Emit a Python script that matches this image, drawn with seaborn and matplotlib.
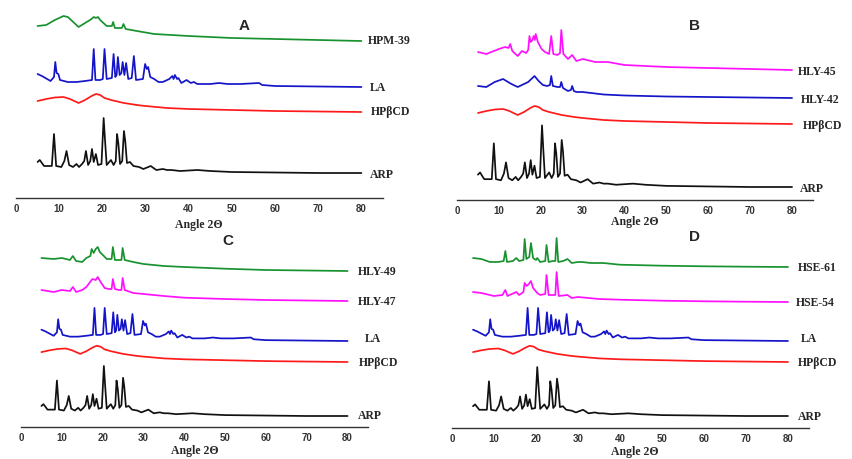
import numpy as np
import pandas as pd
import seaborn as sns
import matplotlib
matplotlib.use("Agg")
import matplotlib.pyplot as plt

# XRD patterns, intensity given as pixel height above each trace's 80° baseline
arp_x = [5, 5.5, 6.5, 8.3, 8.8, 9.3, 10.5, 11.2, 11.7, 12.3, 13.2, 14.0, 14.6, 15.3, 15.8, 16.2, 16.7, 17.2,
         17.6, 18.0, 18.5, 19.0, 19.8, 20.3, 20.6, 21.0, 22.0, 22.6, 23.1, 23.4, 23.7, 24.1, 24.6, 25.0, 25.3,
         25.7, 26.4, 27.2, 28.5, 29.5, 31.2, 32.5, 34, 35, 36, 38, 42, 45, 50, 60, 70, 80]
arp_y = [11, 13, 7, 7, 39, 7, 6, 12, 22, 8, 6, 9, 6, 9, 12, 22, 8, 12,
         24, 11, 19, 8, 9, 55, 34, 8, 13, 8, 12, 39, 30, 9, 12, 42, 32,
         10, 11, 7, 6, 4, 7, 3, 4, 3, 3, 2, 3, 2, 1, 0.5, 0, 0]

la_x = [5, 6, 8, 8.8, 9.1, 9.4, 9.8, 10.2, 12, 14, 16, 17.6, 18.0, 18.4, 19.5, 20.1, 20.5, 21.0, 22.2, 22.6,
        23.0, 23.3, 23.6, 24.0, 24.4, 24.7, 25.1, 25.5, 26.0, 26.8, 27.3, 27.8, 29.4, 29.9, 30.3, 30.6, 31.1,
        32.0, 33.0, 34.0, 35.5, 36.2, 36.5, 36.8, 37.3, 37.6, 38.3, 39.5, 40.5, 41.2, 42, 43.5, 45, 47, 49,
        52, 56.3, 57, 60, 70, 80]
la_y = [13, 11, 6, 10, 25, 14, 13, 7, 5, 5, 6, 7, 38, 7, 7, 8, 38, 8, 9, 33,
        10, 12, 30, 12, 14, 25, 12, 24, 8, 9, 31, 7, 8, 23, 18, 20, 10,
        8, 5, 5, 8, 11, 8, 12, 8, 9, 4, 7, 4, 5, 3, 3, 3, 4, 3,
        3, 4, 2, 1, 0.5, 0]

hpbcd_x = [5, 6, 7, 9, 11, 12.5, 14.5, 16, 17.5, 18.5, 19.5, 20.5, 22, 25, 28, 30, 35, 40, 50, 60, 70, 80]
hpbcd_y = [11, 12, 13, 14.5, 15, 13, 9, 12, 16, 18, 17, 14, 12, 9, 7, 6, 4, 3, 2, 1, 0.5, 0]

hpm39_x = [5, 7, 9, 11, 12, 13, 14.5, 16, 17.5, 18.0, 18.5, 19.0, 19.5, 21, 22.2, 22.5, 22.9, 24.5, 24.9,
           25.4, 28, 32, 36, 40, 50, 60, 70, 80]
hpm39_y = [15, 16, 21, 25, 24, 20, 14, 18, 22, 24, 23, 24, 21, 15, 15, 19, 13, 13, 17,
           12, 10, 7, 6, 5, 3, 2, 1, 0]

hly45_x = [5, 7, 10, 11.5, 12.3, 12.7, 13.2, 14.5, 15.5, 16.5, 17.0, 17.3, 17.6, 18.0, 18.3, 18.6, 18.8,
           19.3, 20.2, 21, 22, 22.5, 23, 24, 24.6, 24.9, 25.4, 26.5, 27.5, 28.5, 30, 33, 36, 40, 50, 60,
           70, 80]
hly45_y = [18, 16, 21, 23, 22, 26, 19, 14, 19, 17, 20, 34, 28, 30, 34, 30, 36,
           28, 21, 18, 16, 34, 16, 15, 17, 40, 16, 11, 15, 9, 11, 8, 8, 5, 3, 2,
           1, 0]

hly42_x = [5, 7, 9, 11, 13, 14.5, 15.5, 17, 18.5, 19.5, 20.5, 21.5, 22.2, 22.5, 22.9, 24, 24.6, 24.9,
           25.3, 26.5, 27.2, 27.5, 27.9, 28.5, 30, 35, 40, 50, 60, 70, 80]
hly42_y = [12, 11, 16, 19, 14, 11, 13, 16, 22, 17, 13, 12, 13, 22, 12, 11, 11, 16,
           10, 7, 8, 12, 7, 6, 6, 3.5, 2.5, 1.5, 1, 0.5, 0]

hly49_x = [5, 8, 10, 12, 12.7, 13.5, 15, 16, 17.0, 17.3, 17.8, 18.3, 18.8, 19.3, 20.3, 21, 22.2, 22.5,
           23, 24, 24.6, 24.9, 25.4, 27.5, 30, 35, 40, 50, 60, 70, 80]
hly49_y = [13, 12, 13, 11, 15, 10, 9, 13, 15, 22, 18, 22, 24, 19, 15, 12, 12, 24,
           11, 11, 11, 23, 11, 9, 7, 5, 4, 2.3, 1, 0.5, 0]

hly47_x = [5, 8, 10, 12, 12.7, 13.5, 15, 16, 17.5, 18.3, 18.8, 19.5, 20.5, 21.5, 22.2, 22.5, 23, 24,
           24.6, 24.9, 25.4, 27.5, 30, 35, 40, 50, 60, 70, 80]
hly47_y = [11, 9, 11, 10, 14, 9, 11, 14, 22, 21, 24, 19, 13, 12, 12, 22, 12, 11,
           11, 23, 11, 8, 7, 5, 3.3, 2, 1, 0.5, 0]

hse61_x = [5, 7, 9, 11, 12.3, 12.7, 13.1, 14.5, 15.3, 16, 17.0, 17.3, 17.7, 18.4, 18.8, 19.3, 20.0,
           20.3, 21, 22.2, 22.5, 23, 24, 24.6, 24.9, 25.3, 26.5, 27.5, 28.5, 30, 31, 33, 36, 40, 50,
           60, 70, 80]
hse61_y = [9, 8, 5, 5, 6, 16, 5, 6, 9, 6, 7, 28, 8, 10, 24, 9, 7,
           9, 5, 6, 22, 5, 6, 6, 29, 5, 6, 8, 4, 5, 5, 4, 4, 2.3, 1.3,
           0.7, 0.3, 0]

hse54_x = [5, 7, 10, 12, 12.7, 13.2, 15.3, 16, 17.0, 17.3, 17.8, 18.3, 18.8, 19.3, 20.3, 21, 22.2,
           22.5, 23, 24, 24.6, 24.9, 25.4, 27.5, 28.5, 30, 35, 40, 50, 60, 70, 80]
hse54_y = [10, 9, 6, 7, 12, 6, 10, 7, 10, 19, 16, 18, 21, 14, 9, 7, 8,
           27, 7, 7, 7, 30, 6, 7, 4, 5, 3, 2.3, 1.3, 0.7, 0.3, 0]

patterns = {
    "ARP": (arp_x, arp_y), "LA": (la_x, la_y), "HPβCD": (hpbcd_x, hpbcd_y),
    "HPM-39": (hpm39_x, hpm39_y), "HLY-45": (hly45_x, hly45_y), "HLY-42": (hly42_x, hly42_y),
    "HLY-49": (hly49_x, hly49_y), "HLY-47": (hly47_x, hly47_y),
    "HSE-61": (hse61_x, hse61_y), "HSE-54": (hse54_x, hse54_y),
}

GREEN, BLUE, RED, BLACK, MAGENTA = "#17922e", "#1414c8", "#ff1a1a", "#111111", "#ff10ff"

W, H = 852, 460
# panel: letter, axes rect in px (left, axis line y, width, height), letter pos, xlabel pos,
# traces: (name, colour, offset px above axis, scale, label x, label y)
panels = [
    dict(letter="A", rect=(16, 199, 367, 199), lpos=(244, 26), xl=(199, 225),
         traces=[("HPM-39", GREEN, 157, 1.0, 368, 41), ("LA", BLUE, 111, 1.0, 370, 88),
                 ("HPβCD", RED, 86, 1.0, 371, 112), ("ARP", BLACK, 25, 1.0, 370, 175)]),
    dict(letter="B", rect=(457, 201, 356, 201), lpos=(694, 26), xl=(635, 222),
         traces=[("HLY-45", MAGENTA, 130, 1.0, 798, 72), ("HLY-42", BLUE, 102, 1.0, 801, 100),
                 ("HPβCD", RED, 76, 1.0, 803, 126), ("ARP", BLACK, 13, 1.12, 800, 189)]),
    dict(letter="C", rect=(21, 428, 347, 196), lpos=(228, 241), xl=(195, 451),
         traces=[("HLY-49", GREEN, 156, 1.0, 358, 272), ("HLY-47", MAGENTA, 126, 1.0, 358, 302),
                 ("LA", BLUE, 86, 0.87, 365, 339), ("HPβCD", RED, 65, 0.9, 359, 363),
                 ("ARP", BLACK, 11, 0.91, 358, 416)]),
    dict(letter="D", rect=(452, 429, 357, 197), lpos=(694, 237), xl=(635, 452),
         traces=[("HSE-61", GREEN, 161, 1.0, 798, 268), ("HSE-54", MAGENTA, 126, 1.0, 796, 303),
                 ("LA", BLUE, 87, 0.87, 801, 339), ("HPβCD", RED, 66, 0.9, 798, 363),
                 ("ARP", BLACK, 12, 0.89, 798, 417)]),
]

sns.set_style("white")
fig = plt.figure(figsize=(W / 100, H / 100), dpi=100)

for p in panels:
    left, base, width, height = p["rect"]
    ax = fig.add_axes([left / W, 1 - base / H, width / W, height / H])
    ax.patch.set_alpha(0)
    for name, col, off, sc, lx, ly in p["traces"]:
        xs, ys = patterns[name]
        df = pd.DataFrame({"angle": xs, "y": np.array(ys) * sc + off})
        sns.lineplot(data=df, x="angle", y="y", ax=ax, color=col, lw=1.25, sort=False)
        fig.text(lx / W, 1 - ly / H, name, fontsize=8.5, fontweight="bold",
                 family="Liberation Serif", va="center", ha="left")
    ax.set_xlim(0, 85)
    ax.set_ylim(0, height)
    for s in ["top", "left", "right"]:
        ax.spines[s].set_visible(False)
    ax.spines["bottom"].set_color("#333333")
    ax.spines["bottom"].set_linewidth(1.0)
    ax.set_yticks([])
    ax.set_xticks(range(0, 81, 10))
    ax.set_xticks(range(5, 86, 10), minor=True)
    ax.tick_params(axis="x", which="major", direction="inout", length=4, width=1, pad=1.5,
                   labelsize=7, colors="#333333")
    ax.tick_params(axis="x", which="minor", direction="in", length=2.5, width=1, colors="#333333")
    for t in ax.get_xticklabels():
        t.set_fontweight("bold")
        t.set_family("Liberation Sans")
    ax.set_xlabel("")
    ax.set_ylabel("")
    fig.text(p["xl"][0] / W, 1 - p["xl"][1] / H, "Angle 2Θ", fontsize=8.5, fontweight="bold",
             family="Liberation Serif", ha="center", va="center")
    fig.text(p["lpos"][0] / W, 1 - p["lpos"][1] / H, p["letter"], fontsize=11, fontweight="bold",
             family="Liberation Sans", ha="center", va="center")

fig.savefig("out.png", dpi=100)
